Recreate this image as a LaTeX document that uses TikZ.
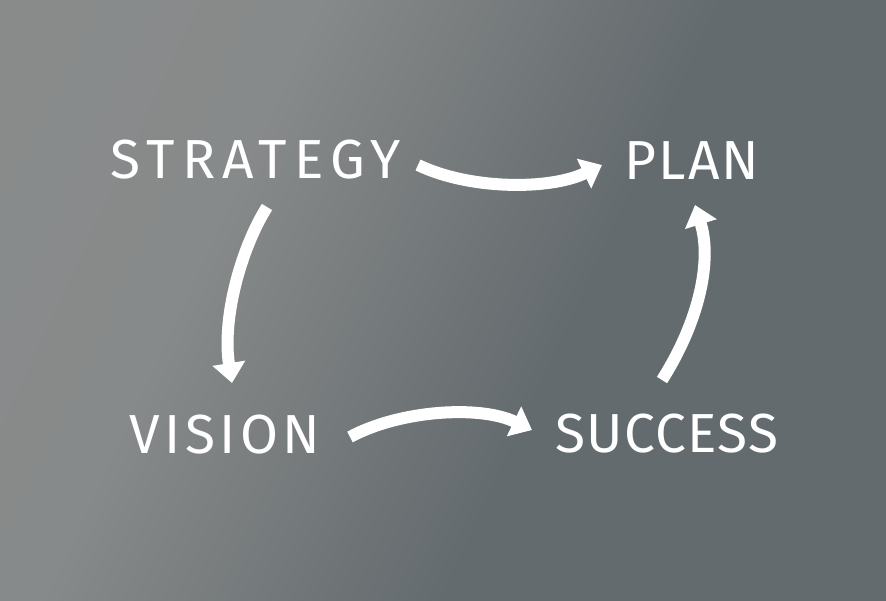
\documentclass[tikz,border=0pt]{standalone}
\usepackage{fontspec}
\setmainfont{Fira Sans}
\usetikzlibrary{arrows.meta}
\definecolor{bgl}{HTML}{8B8D8D}
\definecolor{bgd}{HTML}{646B6E}
\pgfdeclarehorizontalshading{bgshade}{100bp}{color(0bp)=(bgl); color(35bp)=(bgl!90!bgd); color(58bp)=(bgd); color(100bp)=(bgd)}
\tikzset{
  word/.style={text=white, font=\fontsize{55}{60}\selectfont, inner sep=0pt, anchor=center},
  chalkarrow/.style={white, line width=12pt, -{Triangle[length=20pt,width=32pt]}}
}
\begin{document}
\begin{tikzpicture}[x=1pt,y=-1pt]
\shade[shading=bgshade, shading angle=-25] (0,0) rectangle (886,600);
\useasboundingbox (0,0) rectangle (886,600);
\node[word] (strategy) at (256,160) {\addfontfeature{LetterSpace=13}STRATEGY};
\node[word] (plan) at (692,161) {\addfontfeature{LetterSpace=4}PLAN};
\node[word] (vision) at (225,435) {\addfontfeature{LetterSpace=8}VISION};
\node[word] (success) at (667,434) {\addfontfeature{LetterSpace=2.5}SUCCESS};
\coordinate (a1s) at (418,165);
\coordinate (a1e) at (602,165);
\coordinate (a2s) at (267,207);
\coordinate (a2e) at (232,383);
\coordinate (a3s) at (350,437);
\coordinate (a3e) at (532,430);
\coordinate (a4s) at (662,380);
\coordinate (a4e) at (695,205);
\draw[chalkarrow] (a1s) .. controls (470,190) and (550,190) .. (a1e);
\draw[chalkarrow] (a2s) .. controls (240,250) and (222,320) .. (a2e);
\draw[chalkarrow] (a3s) .. controls (400,410) and (480,405) .. (a3e);
\draw[chalkarrow] (a4s) .. controls (700,320) and (712,260) .. (a4e);
\end{tikzpicture}
\end{document}
